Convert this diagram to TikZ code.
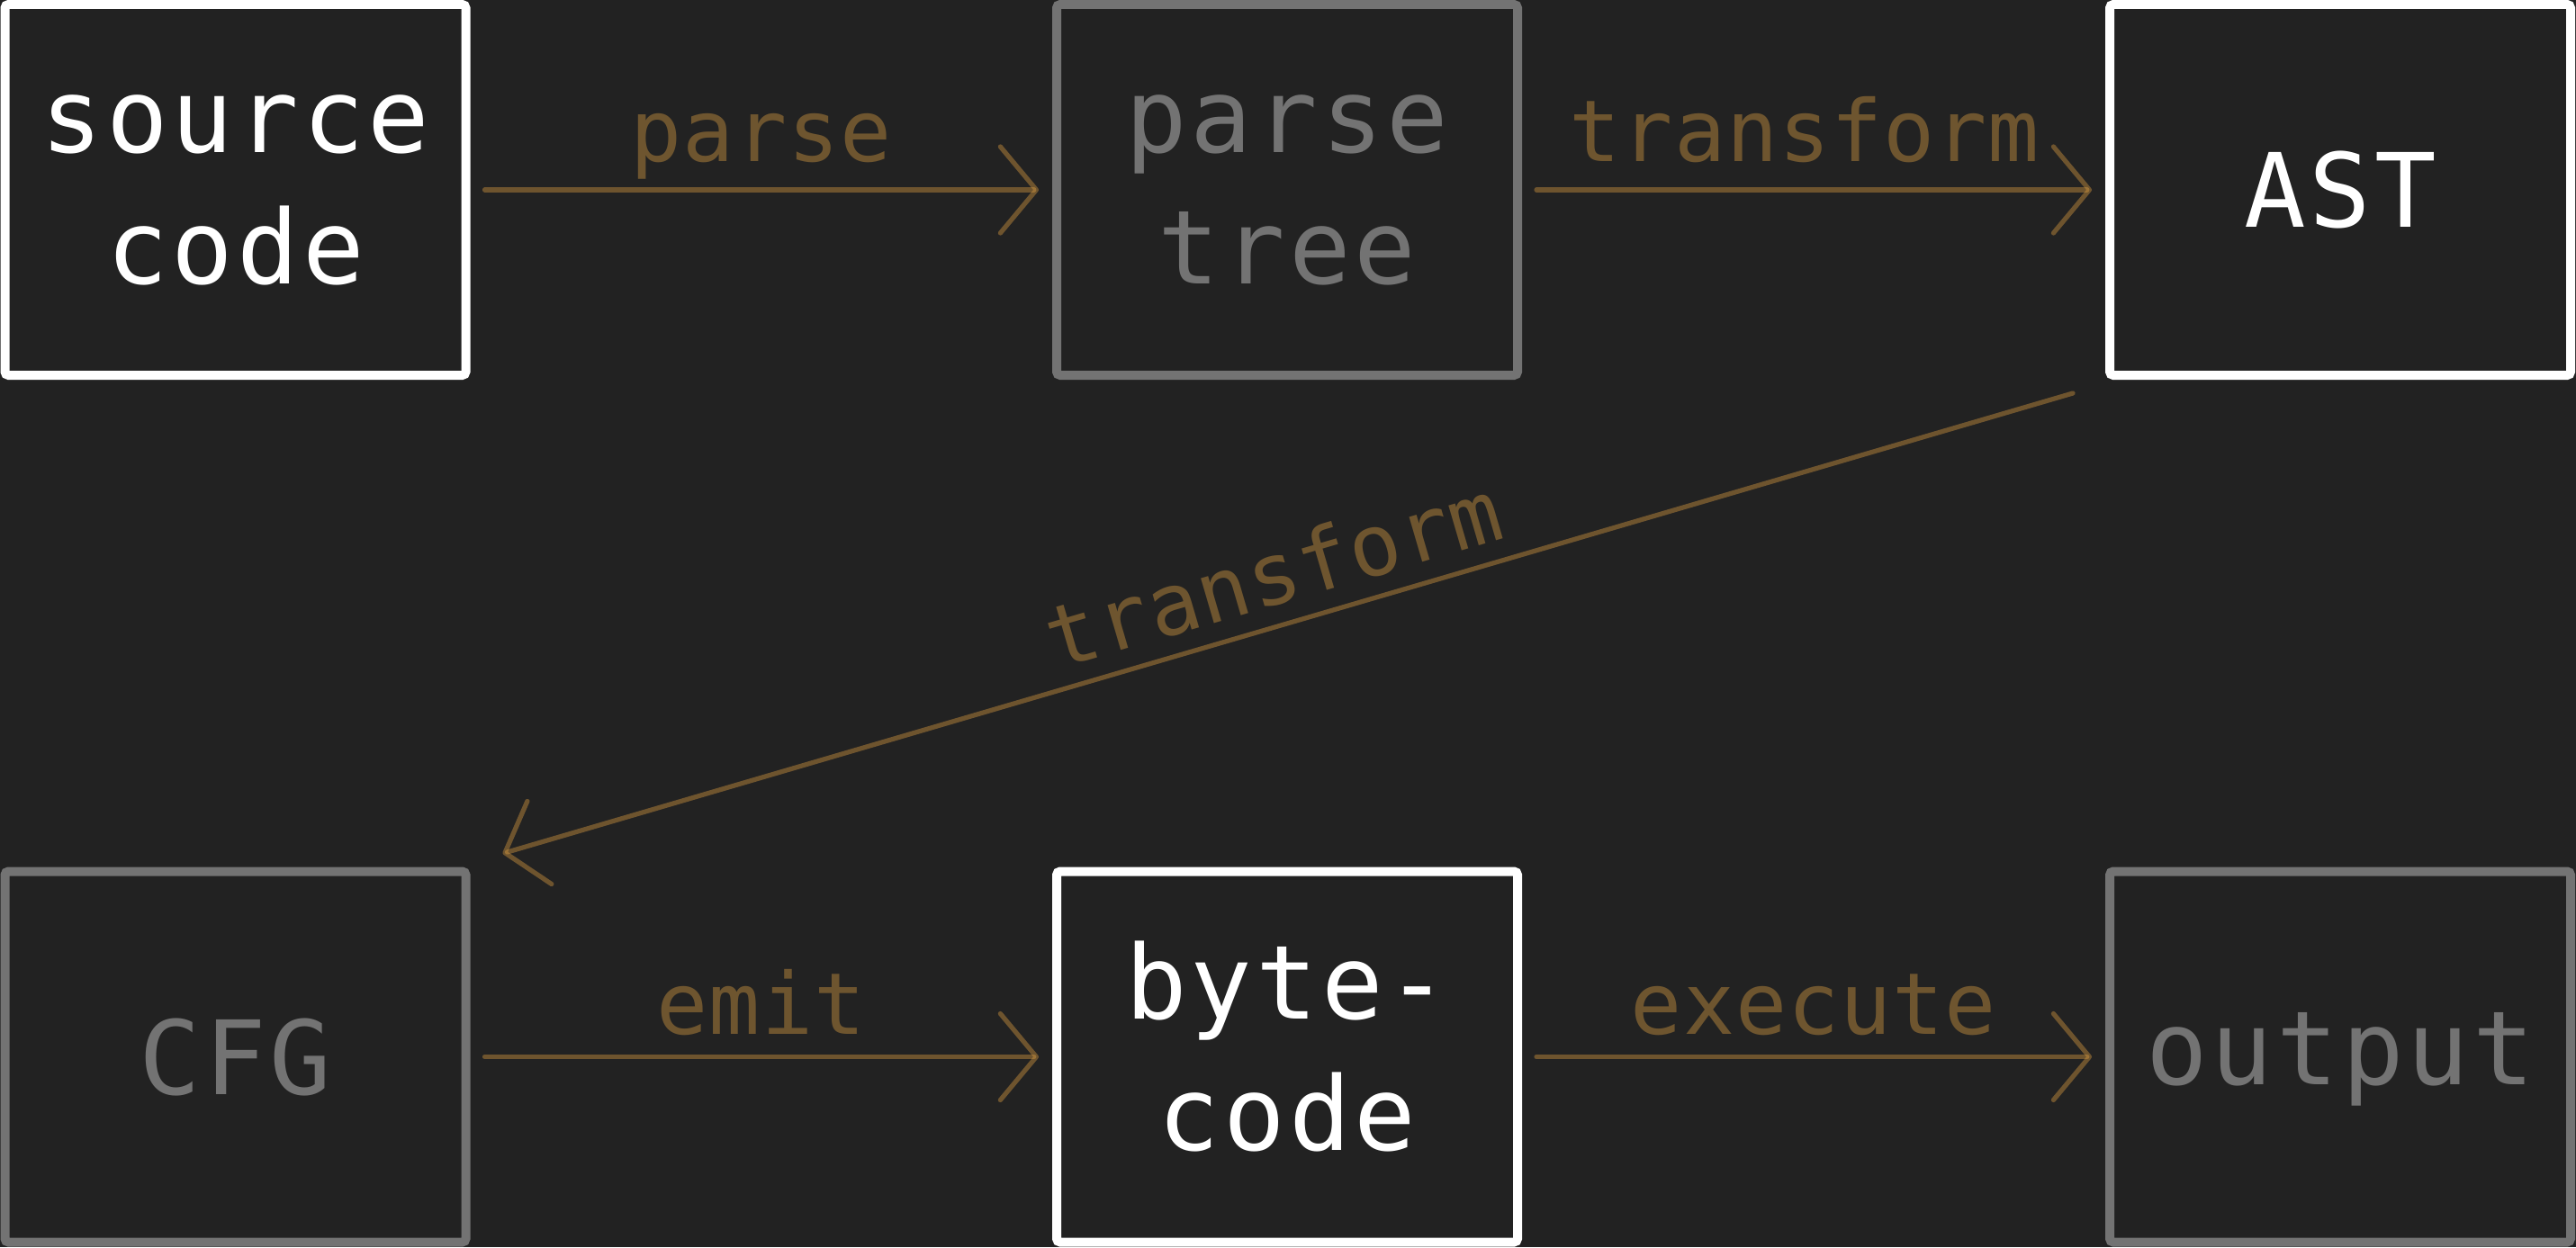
\documentclass[tikz,border=0pt]{standalone}
\usepackage{fontspec}
\newfontfamily\monofam[LetterSpace=3.5]{DejaVu Sans Mono}
\newfontfamily\labelfam[LetterSpace=1.0]{DejaVu Sans Mono}
\usetikzlibrary{arrows.meta,calc}
\definecolor{bg}{HTML}{222222}
\definecolor{boxgray}{HTML}{737373}
\definecolor{arrowbase}{HTML}{E0A142}
\definecolor{labelcol}{HTML}{6E552F}
\newcommand\myNodeFont{\monofam\fontsize{57pt}{73pt}\selectfont}
\newcommand\myLabelFont{\labelfam\fontsize{47.5pt}{57pt}\selectfont}
\begin{document}
\begin{tikzpicture}[
  x=1pt,y=1pt,
  box/.style={draw, line width=5pt, fill=bg, minimum width=256pt, minimum height=206pt,
    inner sep=0pt, rounded corners=2pt, align=center, font=\myNodeFont},
  hi/.style={box, draw=white, text=white},
  lo/.style={box, draw=boxgray, text=boxgray},
  twoline/.style={text height=104.2pt, text depth=0pt},
  capline/.style={text height=41.5pt, text depth=0pt},
  xline/.style={text height=31.2pt, text depth=0pt},
  flow/.style={draw=arrowbase, draw opacity=0.4, line width=2.6pt, line cap=round,
    -{Straight Barb[length=20pt,width=48pt,round]}, shorten <=8pt, shorten >=7.5pt},
  lbl/.style={text=labelcol, font=\myLabelFont, inner sep=0pt, anchor=base},
]
\fill[bg] (0,0) rectangle (1431,-693);
\useasboundingbox (0,0) rectangle (1431,-693);

\node[hi, twoline] (src)   at (130.75,-105.5)  {source\\code};
\node[lo, twoline] (parse) at (715,-105.5)     {parse\\tree};
\node[hi, capline] (ast)   at (1300,-105.5)    {AST};
\node[lo, capline] (cfg)   at (130.75,-587.25) {CFG};
\node[hi, twoline] (byte)  at (715,-587.25)    {byte-\\code};
\node[lo, xline]   (out)   at (1300,-587.25)   {output};

\draw[flow] (src.east) -- node[lbl, yshift=16pt] {parse} (parse.west);
\draw[flow] (parse.east) -- node[lbl, yshift=16pt, xshift=-5pt] {transform} (ast.west);
\draw[flow, shorten <=0pt, shorten >=0pt]
  ($(ast.south west)+(-18,-7.5)$) -- node[lbl, sloped, midway] {\raisebox{11.5pt}{transform}}
  ($(cfg.north east)+(18,7.5)$);
\draw[flow] (cfg.east) -- node[lbl, yshift=12.5pt] {emit} (byte.west);
\draw[flow] (byte.east) -- node[lbl, yshift=12.5pt] {execute} (out.west);
\end{tikzpicture}
\end{document}
